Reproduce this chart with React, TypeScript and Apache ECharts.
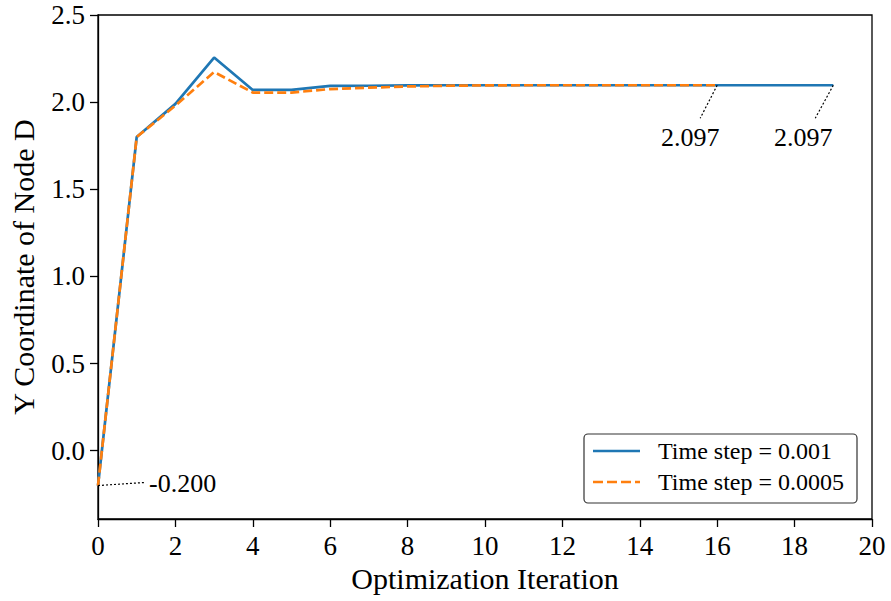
import React, { useEffect, useRef } from "react";
import * as echarts from "echarts";

const iterations = [0, 1, 2, 3, 4, 5, 6, 7, 8, 9, 10, 11, 12, 13, 14, 15, 16, 17, 18, 19];
const step001 = [-0.2, 1.8, 1.99, 2.256, 2.07, 2.07, 2.093, 2.094, 2.096, 2.097, 2.097, 2.097, 2.097, 2.097, 2.097, 2.097, 2.097, 2.097, 2.097, 2.097];
const step0005 = [-0.2, 1.8, 1.98, 2.173, 2.055, 2.055, 2.075, 2.083, 2.09, 2.094, 2.096, 2.097, 2.097, 2.097, 2.097, 2.097, 2.097];
const yTicks = [0, 0.5, 1.0, 1.5, 2.0, 2.5];
const annotX = [0, 16, 19];
const annotY = [-0.2, 2.097, 2.097];
const seriesNames = ["Time step = 0.001", "Time step = 0.0005"];
const seriesColors = ["#1f77b4", "#ff7f0e"];

const FONT = "Liberation Serif";
const DASH = [9, 4];

export default function App() {
  const ref = useRef<HTMLDivElement>(null);
  useEffect(() => {
    if (!ref.current) return;
    const chart = echarts.init(ref.current, undefined, { renderer: "svg" });
    const option: any = {
      animation: false,
      backgroundColor: "#ffffff",
      grid: {
        left: 97,
        right: 19,
        top: 15,
        bottom: 82,
        show: true,
        borderColor: "#000",
        borderWidth: 1.3,
        backgroundColor: "transparent",
      },
      xAxis: {
        type: "value",
        min: 0,
        max: 20,
        interval: 2,
        name: "Optimization Iteration",
        nameLocation: "middle",
        nameGap: 43,
        nameTextStyle: { fontFamily: FONT, fontSize: 30, color: "#000" },
        axisLine: { show: true, onZero: false, lineStyle: { color: "#000", width: 1.3 } },
        axisTick: { show: true, inside: false, length: 8, lineStyle: { color: "#000", width: 1.3 } },
        axisLabel: { fontFamily: FONT, fontSize: 27, color: "#000", margin: 13 },
        splitLine: { show: false },
      },
      yAxis: {
        type: "value",
        min: -0.392,
        max: 2.5,
        name: "Y Coordinate of Node D",
        nameLocation: "middle",
        nameGap: 60,
        nameTextStyle: { fontFamily: FONT, fontSize: 30, color: "#000" },
        axisLine: { show: true, onZero: false, lineStyle: { color: "#000", width: 1.3 } },
        axisTick: { show: true, length: 8, customValues: yTicks, lineStyle: { color: "#000", width: 1.3 } },
        axisLabel: {
          fontFamily: FONT,
          fontSize: 27,
          color: "#000",
          margin: 13,
          customValues: yTicks,
          formatter: (v: number) => v.toFixed(1),
        },
        splitLine: { show: false },
      },
      series: [
        {
          name: seriesNames[0],
          type: "line",
          data: iterations.map((x, i) => [x, step001[i]]),
          showSymbol: false,
          symbol: "none",
          lineStyle: { color: seriesColors[0], width: 2.7 },
          itemStyle: { color: seriesColors[0] },
          z: 2,
        },
        {
          name: seriesNames[1],
          type: "line",
          data: step0005.map((y, i) => [iterations[i], y]),
          showSymbol: false,
          symbol: "none",
          lineStyle: { color: seriesColors[1], width: 2.7, type: DASH },
          itemStyle: { color: seriesColors[1] },
          z: 3,
        },
      ],
    };
    chart.setOption(option);

    const textOffsets = [
      { tx: 51, ty: -2, lx: 46, ly: -3, align: "left" },
      { tx: -27, ty: 52, lx: -17, ly: 33, align: "center" },
      { tx: -30, ty: 52, lx: -18, ly: 33, align: "center" },
    ];
    const graphics: any[] = [];
    annotX.forEach((x, i) => {
      const p = chart.convertToPixel({ gridIndex: 0 }, [x, annotY[i]]) as number[];
      const o = textOffsets[i];
      graphics.push({
        type: "line",
        shape: { x1: p[0], y1: p[1], x2: p[0] + o.lx, y2: p[1] + o.ly },
        style: { stroke: "#000", lineWidth: 1.2, lineDash: [2, 2] },
        z: 10,
      });
      graphics.push({
        type: "text",
        x: p[0] + o.tx,
        y: p[1] + o.ty,
        style: {
          text: annotY[i].toFixed(3),
          fontFamily: FONT,
          fontSize: 26,
          fill: "#000",
          align: o.align,
          verticalAlign: "middle",
        },
        z: 10,
      });
    });

    // legend box
    const lx = 584, ly = 434, lw = 273, lh = 69;
    graphics.push({
      type: "rect",
      shape: { x: lx, y: ly, width: lw, height: lh, r: 4 },
      style: { fill: "#fff", stroke: "#333", lineWidth: 1.2 },
      z: 20,
    });
    seriesNames.forEach((name, i) => {
      const yy = ly + 17 + i * 31;
      graphics.push({
        type: "line",
        shape: { x1: lx + 9, y1: yy, x2: lx + 56, y2: yy },
        style: { stroke: seriesColors[i], lineWidth: 2.7, lineDash: i === 1 ? [10, 4] : null },
        z: 21,
      });
      graphics.push({
        type: "text",
        x: lx + 74,
        y: yy,
        style: {
          text: name,
          fontFamily: FONT,
          fontSize: 24,
          fill: "#000",
          align: "left",
          verticalAlign: "middle",
        },
        z: 21,
      });
    });
    chart.setOption({ graphic: graphics });

    return () => chart.dispose();
  }, []);
  return <div ref={ref} style={{ width: 891, height: 601, position: "absolute", left: 0, top: 0 }} />;
}
